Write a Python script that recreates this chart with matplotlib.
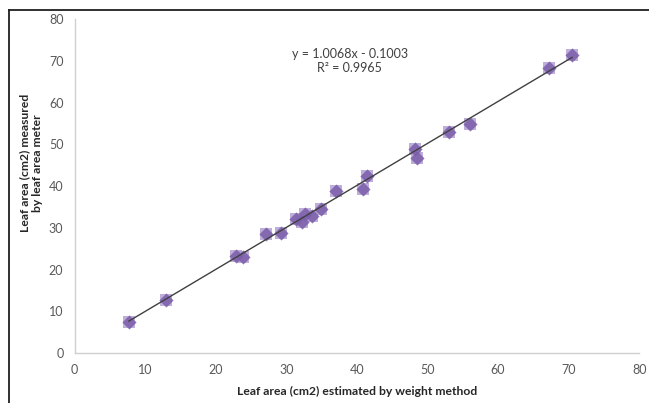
import matplotlib
matplotlib.use("Agg")
import matplotlib.pyplot as plt
from matplotlib.lines import Line2D
import numpy as np

plt.rcParams['font.family'] = ['Lato', 'DejaVu Sans']

# leaf area estimated by weight method (x) vs measured by leaf area meter (y)
weight_area = [7.7, 12.9, 22.9, 23.9, 27.1, 29.3, 31.4, 32.3, 32.6, 33.7,
               34.9, 37.0, 40.9, 41.5, 48.3, 48.5, 53.0, 56.1, 67.2, 70.5]
meter_area = [7.4, 12.6, 23.3, 23.1, 28.6, 28.7, 32.2, 31.3, 33.4, 32.9,
              34.5, 38.8, 39.3, 42.5, 48.8, 46.8, 52.9, 55.0, 68.4, 71.5]
slope = 1.0068
intercept = -0.1003
r2 = 0.9965

x_ticks = [0, 10, 20, 30, 40, 50, 60, 70, 80]
y_ticks = [0, 10, 20, 30, 40, 50, 60, 70, 80]

fig = plt.figure(figsize=(6.49, 4.03), dpi=100)
ax = fig.add_axes([0.1148, 0.124, 0.870, 0.828])

# markers: light square under a darker diamond
ax.scatter(weight_area, meter_area, marker='s', s=80, color='#AD9BD0',
           alpha=0.8, linewidths=0, zorder=3)
ax.scatter(weight_area, meter_area, marker='D', s=52, color='#7A5DAA',
           alpha=0.85, linewidths=0, zorder=4)

# linear trendline across the data range
xs = np.array([min(weight_area), max(weight_area)])
ax.plot(xs, slope * xs + intercept, color='#404040', lw=1.0, zorder=5)

ax.text(39, 70.0, f"y = {slope:.4f}x - {abs(intercept):.4f}\nR² = {r2:.4f}",
        ha='center', va='center', fontsize=9, color='#404040',
        linespacing=1.2)

ax.set_xlim(0, 80)
ax.set_ylim(0, 80)
ax.set_xticks(x_ticks)
ax.set_yticks(y_ticks)
ax.tick_params(length=0, labelsize=9, labelcolor='#595959')
ax.tick_params(axis='y', pad=8)
ax.tick_params(axis='x', pad=8)
for side in ['top', 'right']:
    ax.spines[side].set_visible(False)
for side in ['left', 'bottom']:
    ax.spines[side].set_color('#D0D0D0')
    ax.spines[side].set_linewidth(1.0)

fig.text(357 / 649, 1 - 391 / 403, "Leaf area (cm2) estimated by weight method",
         ha='center', va='center', fontsize=8.7, fontweight='bold', color='#262626')
fig.text(31 / 649, 1 - 163 / 403, "Leaf area (cm2) measured\nby leaf area meter",
         ha='center', va='center', rotation=90, fontsize=8.7, fontweight='bold',
         color='#262626', linespacing=1.15)

# frame lines at top and left edge of the picture
fig.add_artist(Line2D([9 / 649, 1.0], [1 - 9.5 / 403, 1 - 9.5 / 403],
                      color='#202020', lw=1.3, transform=fig.transFigure))
fig.add_artist(Line2D([9 / 649, 9 / 649], [0.0, 1 - 9.5 / 403],
                      color='#202020', lw=1.3, transform=fig.transFigure))

fig.savefig('out.png', dpi=100)
